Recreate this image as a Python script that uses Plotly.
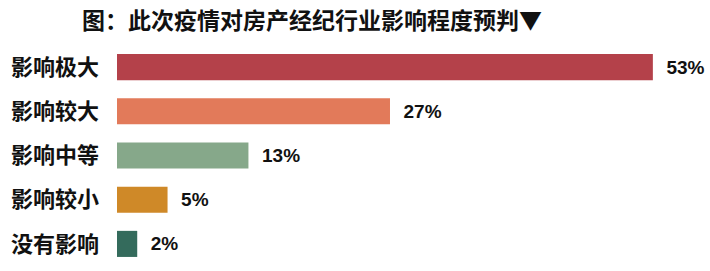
import plotly.graph_objects as go

categories = ["影响极大", "影响较大", "影响中等", "影响较小", "没有影响"]
values = [53, 27, 13, 5, 2]
labels = ["53%", "27%", "13%", "5%", "2%"]
colors = ["#B4414A", "#E27A5A", "#86A88A", "#CF8928", "#346B5C"]
title = "图：此次疫情对房产经纪行业影响程度预判▼"

fig = go.Figure(go.Bar(
    y=categories,
    x=values,
    orientation="h",
    marker=dict(color=colors, line=dict(width=0)),
    text=["  " + t for t in labels],
    textposition="outside",
    cliponaxis=False,
    textfont=dict(family="Liberation Sans, Arial, sans-serif",
                  size=19, color="#111111", weight="bold"),
    hoverinfo="skip",
))

fig.update_layout(
    width=710, height=271,
    margin=dict(l=117, r=0, t=45, b=5),
    paper_bgcolor="white", plot_bgcolor="white",
    bargap=0.41,
    showlegend=False,
    title=dict(
        text=title,
        x=82 / 710, xref="container", xanchor="left",
        y=1 - 21 / 271, yref="container", yanchor="middle",
        font=dict(family="Noto Sans CJK SC", size=23, color="#111111", weight="bold"),
    ),
    xaxis=dict(range=[0, 58.65], visible=False, fixedrange=True),
    yaxis=dict(
        autorange="reversed",
        showgrid=False, zeroline=False, showline=False, ticks="",
        ticklabelstandoff=17,
        tickfont=dict(family="Noto Sans CJK SC", size=22, color="#111111", weight="bold"),
    ),
)

fig.write_html("out.html")
